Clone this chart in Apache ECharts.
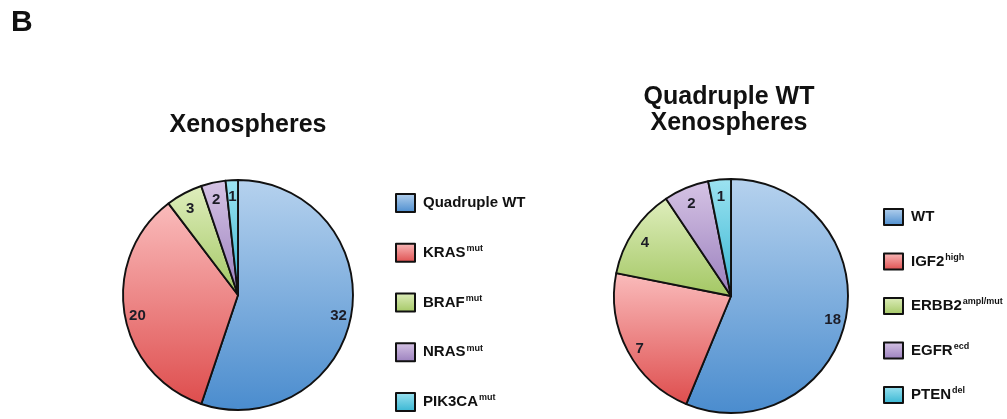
<!DOCTYPE html>
<html>
<head>
<meta charset="utf-8">
<script src="https://cdn.jsdelivr.net/npm/echarts@6/dist/echarts.min.js"></script>
<style>
html,body{margin:0;padding:0;background:#fff;}
#c{width:1007px;height:419px;}
</style>
</head>
<body>
<div id="c"></div>
<script>
// ---- data ----
const leftNames = ['Quadruple WT', 'KRAS', 'BRAF', 'NRAS', 'PIK3CA'];
const leftSup = ['', 'mut', 'mut', 'mut', 'mut'];
const leftValues = [32, 20, 3, 2, 1];

const rightNames = ['WT', 'IGF2', 'ERBB2', 'EGFR', 'PTEN'];
const rightSup = ['', 'high', 'ampl/mut', 'ecd', 'del'];
const rightValues = [18, 7, 4, 2, 1];

const leftTitle = 'Xenospheres';
const rightTitle = 'Quadruple WT\nXenospheres';
const panelLabel = 'B';

// ---- styles ----
const FONT = 'Liberation Sans, Arial, sans-serif';
const gradStops = [
  ['#b6d2ee', '#4a8cce'],
  ['#fabcbc', '#de4d4d'],
  ['#dfeebd', '#a3c763'],
  ['#d6c4e5', '#9a7fbd'],
  ['#9de3f1', '#36b5d2']
];
function grad(i) {
  return new echarts.graphic.LinearGradient(0, 0, 0, 1, [
    { offset: 0, color: gradStops[i][0] },
    { offset: 1, color: gradStops[i][1] }
  ]);
}
function mainData(names, values) {
  return names.map((n, i) => ({ name: n, value: values[i], itemStyle: { color: grad(i) } }));
}
function labelData(values) {
  return values.map(v => ({ value: v }));
}
function supFor(name) {
  let i = leftNames.indexOf(name);
  if (i >= 0) return leftSup[i];
  i = rightNames.indexOf(name);
  return i >= 0 ? rightSup[i] : '';
}
const legendRich = {
  m: { fontSize: 15, fontWeight: 'bold', fontFamily: FONT, color: '#111', lineHeight: 17 },
  s: { fontSize: 9, fontWeight: 'bold', fontFamily: FONT, color: '#111', verticalAlign: 'top', lineHeight: 17, padding: [0, 0, 0, 1] }
};
function legendFmt(name) {
  const s = supFor(name);
  return '{m|' + name + '}' + (s ? '{s|' + s + '}' : '');
}

const L = { center: [238, 295], r: 115 };
const R = { center: [731, 296], r: 117 };

function mainSeries(pos, names, values) {
  return {
    type: 'pie',
    center: pos.center,
    radius: [0, pos.r],
    startAngle: 90,
    clockwise: true,
    silent: true,
    animation: false,
    label: { show: false },
    labelLine: { show: false },
    emphasis: { disabled: true },
    itemStyle: { borderColor: '#111', borderWidth: 1.9 },
    data: mainData(names, values)
  };
}
function labelSeries(pos, values) {
  return {
    type: 'pie',
    center: pos.center,
    radius: [pos.r * 0.72, pos.r],
    startAngle: 90,
    clockwise: true,
    silent: true,
    animation: false,
    avoidLabelOverlap: false,
    minShowLabelAngle: 0,
    z: 5,
    itemStyle: { color: 'rgba(0,0,0,0)', borderWidth: 0 },
    emphasis: { disabled: true },
    labelLine: { show: false },
    label: {
      show: true, position: 'inside', formatter: '{c}', offset: [0, 4],
      fontSize: 15, fontWeight: 'bold', fontFamily: FONT, color: '#1c1c26'
    },
    data: labelData(values)
  };
}

const chart = echarts.init(document.getElementById('c'), null, { renderer: 'canvas' });
chart.setOption({
  backgroundColor: '#fff',
  animation: false,
  title: [
    { text: panelLabel, left: 11, top: 8, padding: 0, textStyle: { fontSize: 30, fontWeight: 'bold', fontFamily: FONT, color: '#111' } },
    { text: leftTitle, left: 248, top: 113, padding: 0, textAlign: 'center', textStyle: { fontSize: 25, fontWeight: 'bold', fontFamily: FONT, color: '#111' } },
    { text: rightTitle, left: 729, top: 84, padding: 0, textAlign: 'center', textStyle: { fontSize: 25, lineHeight: 26, fontWeight: 'bold', fontFamily: FONT, color: '#111' } }
  ],
  legend: [
    {
      data: leftNames, orient: 'vertical', left: 395, top: 193, height: 224, padding: 0,
      itemWidth: 19, itemHeight: 18, itemGap: 29.75, icon: 'rect',
      selectedMode: false,
      itemStyle: { borderColor: '#111', borderWidth: 2 },
      formatter: legendFmt,
      textStyle: { rich: legendRich, padding: [0, 0, 0, 3] }
    },
    {
      data: rightNames, orient: 'vertical', left: 883, top: 208, height: 210, padding: 0,
      itemWidth: 19, itemHeight: 16, itemGap: 26.5, icon: 'rect',
      selectedMode: false,
      itemStyle: { borderColor: '#111', borderWidth: 2 },
      formatter: legendFmt,
      textStyle: { rich: legendRich, padding: [0, 0, 0, 3] }
    }
  ],
  series: [
    mainSeries(L, leftNames, leftValues),
    mainSeries(R, rightNames, rightValues),
    labelSeries(L, leftValues),
    labelSeries(R, rightValues)
  ]
});
</script>
</body>
</html>
